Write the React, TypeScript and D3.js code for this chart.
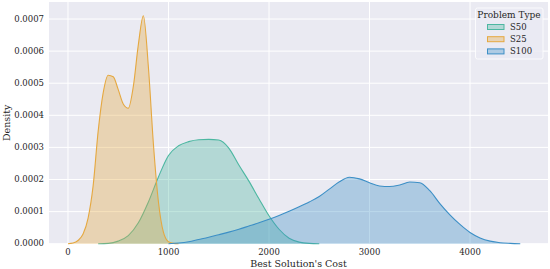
import React from 'react';
import * as d3 from 'd3';

// density estimates (cost -> density)
const s25Cost = [0, 50, 100, 150, 200, 250, 300, 350, 400, 450, 500, 550, 600, 650, 700, 750, 800, 850, 900, 950, 1000, 1050, 1100];
const s25Density = [0, 0.000002, 0.00001, 0.00003, 0.00008, 0.00018, 0.00035, 0.00047, 0.000525, 0.00052, 0.00048, 0.000435, 0.000422, 0.00049, 0.00062, 0.00071, 0.00055, 0.00031, 0.00013, 0.000035, 0.000006, 0.000001, 0];

const s50Cost = [300, 400, 500, 600, 700, 800, 900, 1000, 1100, 1200, 1300, 1400, 1500, 1600, 1700, 1800, 1900, 2000, 2100, 2200, 2300, 2400, 2500];
const s50Density = [0, 0.000001, 0.000008, 0.000025, 0.000065, 0.00013, 0.000208, 0.000275, 0.000305, 0.000318, 0.000324, 0.000325, 0.000323, 0.000298, 0.000245, 0.000195, 0.00014, 0.000087, 0.000045, 0.000017, 0.000005, 0.000001, 0];

const s100Cost = [1000, 1100, 1200, 1300, 1400, 1500, 1600, 1700, 1800, 1900, 2000, 2100, 2200, 2300, 2400, 2500, 2600, 2700, 2800, 2900, 3000, 3100, 3200, 3300, 3400, 3500, 3600, 3700, 3800, 3900, 4000, 4100, 4200, 4300, 4400, 4500];
const s100Density = [0, 0.000002, 0.000006, 0.000013, 0.00002, 0.000028, 0.000036, 0.000045, 0.000055, 0.000065, 0.000076, 0.000088, 0.000101, 0.000115, 0.00013, 0.000147, 0.00017, 0.000193, 0.000207, 0.000202, 0.00019, 0.00018, 0.000178, 0.000183, 0.000192, 0.00019, 0.000165, 0.000125, 0.00009, 0.00006, 0.000035, 0.000018, 0.000008, 0.000003, 0.000001, 0];

const xTicks = [0, 1000, 2000, 3000, 4000];
const yTicks = [0, 0.0001, 0.0002, 0.0003, 0.0004, 0.0005, 0.0006, 0.0007];

const series = [
  { name: 'S50', cost: s50Cost, density: s50Density, color: '#4cb7a1' },
  { name: 'S25', cost: s25Cost, density: s25Density, color: '#e5a840' },
  { name: 'S100', cost: s100Cost, density: s100Density, color: '#3c8fc6' },
];

const W = 550;
const H = 269;
const left = 49;
const right = 548;
const top = 2;
const bottom = 243.7;
const font = 'DejaVu Serif, serif';

export default function App() {
  const x = d3.scaleLinear().domain([-189, 4776]).range([left, right]);
  const y = d3.scaleLinear().domain([0, 0.000753]).range([bottom, top]);

  const area = d3.area<[number, number]>()
    .x(d => x(d[0]))
    .y0(y(0))
    .y1(d => y(d[1]))
    .curve(d3.curveMonotoneX);
  const line = d3.line<[number, number]>()
    .x(d => x(d[0]))
    .y(d => y(d[1]))
    .curve(d3.curveMonotoneX);

  return (
    <svg width={W} height={H} style={{ position: 'absolute', left: 0, top: 0 }} fontFamily={font}>
      <rect x={left} y={top} width={right - left} height={bottom - top} fill="#eaeaf2" />
      {xTicks.map(t => (
        <line key={'gx' + t} x1={x(t)} x2={x(t)} y1={top} y2={bottom} stroke="#fff" strokeWidth={1} />
      ))}
      {yTicks.map(t => (
        <line key={'gy' + t} x1={left} x2={right} y1={y(t)} y2={y(t)} stroke="#fff" strokeWidth={1} />
      ))}
      {series.map(s => {
        const pts = s.cost.map((c, i) => [c, s.density[i]] as [number, number]);
        return (
          <g key={s.name}>
            <path d={area(pts) || ''} fill={s.color} fillOpacity={0.35} />
            <path d={line(pts) || ''} fill="none" stroke={s.color} strokeWidth={1.1} />
          </g>
        );
      })}
      {xTicks.map(t => (
        <text key={'tx' + t} x={x(t)} y={252.5} fontSize={8.5} textAnchor="middle" dominantBaseline="middle" fill="#262626">{t}</text>
      ))}
      {yTicks.map(t => (
        <text key={'ty' + t} x={44} y={y(t)} fontSize={8.5} textAnchor="end" dominantBaseline="middle" fill="#262626">{t.toFixed(4)}</text>
      ))}
      <text x={(left + right) / 2} y={266.5} fontSize={9.5} textAnchor="middle" fill="#262626">Best Solution's Cost</text>
      <text transform={`translate(10,${(top + bottom) / 2}) rotate(-90)`} fontSize={9.5} textAnchor="middle" fill="#262626">Density</text>
      <g>
        <rect x={475.5} y={8} width={67.5} height={51} rx={2} fill="#eaeaf2" fillOpacity={0.8} stroke="#fff" strokeOpacity={0.8} />
        <text x={509} y={15.5} fontSize={9} textAnchor="middle" dominantBaseline="middle" fill="#262626">Problem Type</text>
        {series.map((s, i) => (
          <g key={'lg' + s.name}>
            <rect x={487.5} y={24.5 + i * 12.2} width={16.5} height={5} fill={s.color} fillOpacity={0.35} stroke={s.color} strokeWidth={1} />
            <text x={510} y={27 + i * 12.2} fontSize={8.5} dominantBaseline="middle" fill="#262626">{s.name}</text>
          </g>
        ))}
      </g>
    </svg>
  );
}
